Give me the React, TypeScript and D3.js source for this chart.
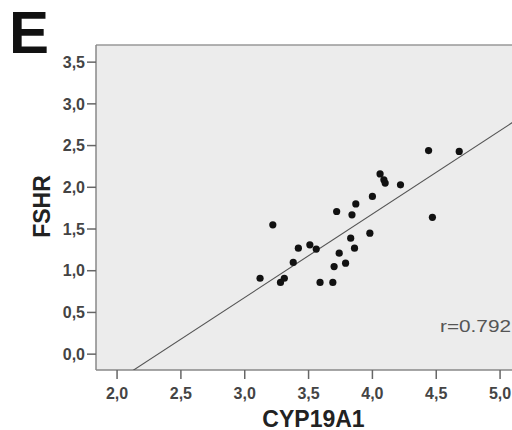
import React from "react";
import * as d3 from "d3";

const cyp19a1: number[] = [
  4.44, 4.68, 4.06, 4.09, 4.1, 4.22, 4.0, 3.87, 3.72, 3.84, 4.47,
  3.22, 3.83, 3.86, 3.98, 3.42, 3.51, 3.56, 3.74, 3.79, 3.7, 3.38,
  3.12, 3.31, 3.28, 3.59, 3.69,
];
const fshr: number[] = [
  2.44, 2.43, 2.16, 2.09, 2.05, 2.03, 1.89, 1.8, 1.71, 1.67, 1.64,
  1.55, 1.39, 1.27, 1.45, 1.27, 1.31, 1.26, 1.21, 1.09, 1.05, 1.1,
  0.91, 0.91, 0.86, 0.86, 0.86,
];
const xTicks: number[] = [2.0, 2.5, 3.0, 3.5, 4.0, 4.5, 5.0];
const yTicks: number[] = [0.0, 0.5, 1.0, 1.5, 2.0, 2.5, 3.0, 3.5];
const fitSlope = 1.0;
const fitIntercept = -2.32;
const rLabel = "r=0.792";

const fmt = (v: number) => v.toFixed(1).replace(".", ",");

export default function App() {
  const left = 96, top = 45, bottom = 370, right = 530;
  const x = d3.scaleLinear().domain([1.835, 1.835 + (right - left) / 127.67]).range([left, right]);
  const y = d3.scaleLinear().domain([-0.19, -0.19 + (bottom - top) / 83.43]).range([bottom, top]);
  const [x0, x1] = x.domain();
  const line = d3.line<number>().x((d) => x(d)).y((d) => y(fitSlope * d + fitIntercept));
  const tickFont = "Arial, 'Liberation Sans', sans-serif";
  return (
    <svg width={512} height={430} style={{ position: "absolute", left: 0, top: 0, background: "#fff" }}>
      <defs>
        <clipPath id="plotclip">
          <rect x={left} y={top} width={right - left} height={bottom - top} />
        </clipPath>
      </defs>
      <rect x={left} y={top} width={right - left} height={bottom - top} fill="#ececec" />
      <line x1={left} x2={right} y1={top} y2={top} stroke="#999" strokeWidth={1.5} />
      <line x1={left} x2={left} y1={top} y2={bottom} stroke="#888" strokeWidth={1.5} />
      <line x1={left} x2={right} y1={bottom} y2={bottom} stroke="#888" strokeWidth={1.5} />
      <g clipPath="url(#plotclip)">
        <path d={line([x0, x1]) ?? ""} fill="none" stroke="#555" strokeWidth={1.1} />
        {cyp19a1.map((v, i) => (
          <circle key={i} cx={x(v)} cy={y(fshr[i])} r={3.6} fill="#111" />
        ))}
      </g>
      {yTicks.map((t) => (
        <g key={"y" + t}>
          <line x1={left - 9} x2={left} y1={y(t)} y2={y(t)} stroke="#666" strokeWidth={1.5} />
          <text x={left - 11} y={y(t)} dy="0.36em" textAnchor="end" fontFamily={tickFont} fontWeight="bold" fontSize={16} fill="#444">
            {fmt(t)}
          </text>
        </g>
      ))}
      {xTicks.map((t) => (
        <g key={"x" + t}>
          <line x1={x(t)} x2={x(t)} y1={bottom} y2={bottom + 9} stroke="#666" strokeWidth={1.5} />
          <text x={x(t)} y={398.5} textAnchor="middle" fontFamily={tickFont} fontWeight="bold" fontSize={16} fill="#444">
            {fmt(t)}
          </text>
        </g>
      ))}
      <text x={440} y={331.5} fontFamily={tickFont} fontSize={17} fill="#555" textLength={71} lengthAdjust="spacingAndGlyphs">
        {rLabel}
      </text>
      <text x={313.5} y={426.5} textAnchor="middle" fontFamily={tickFont} fontWeight="bold" fontSize={23} fill="#222">
        CYP19A1
      </text>
      <text transform="translate(50,206.5) rotate(-90)" textAnchor="middle" fontFamily={tickFont} fontWeight="bold" fontSize={23} fill="#222">
        FSHR
      </text>
      <text x={9} y={53} fontFamily={tickFont} fontWeight="bold" fontSize={60} fill="#111">
        E
      </text>
    </svg>
  );
}
